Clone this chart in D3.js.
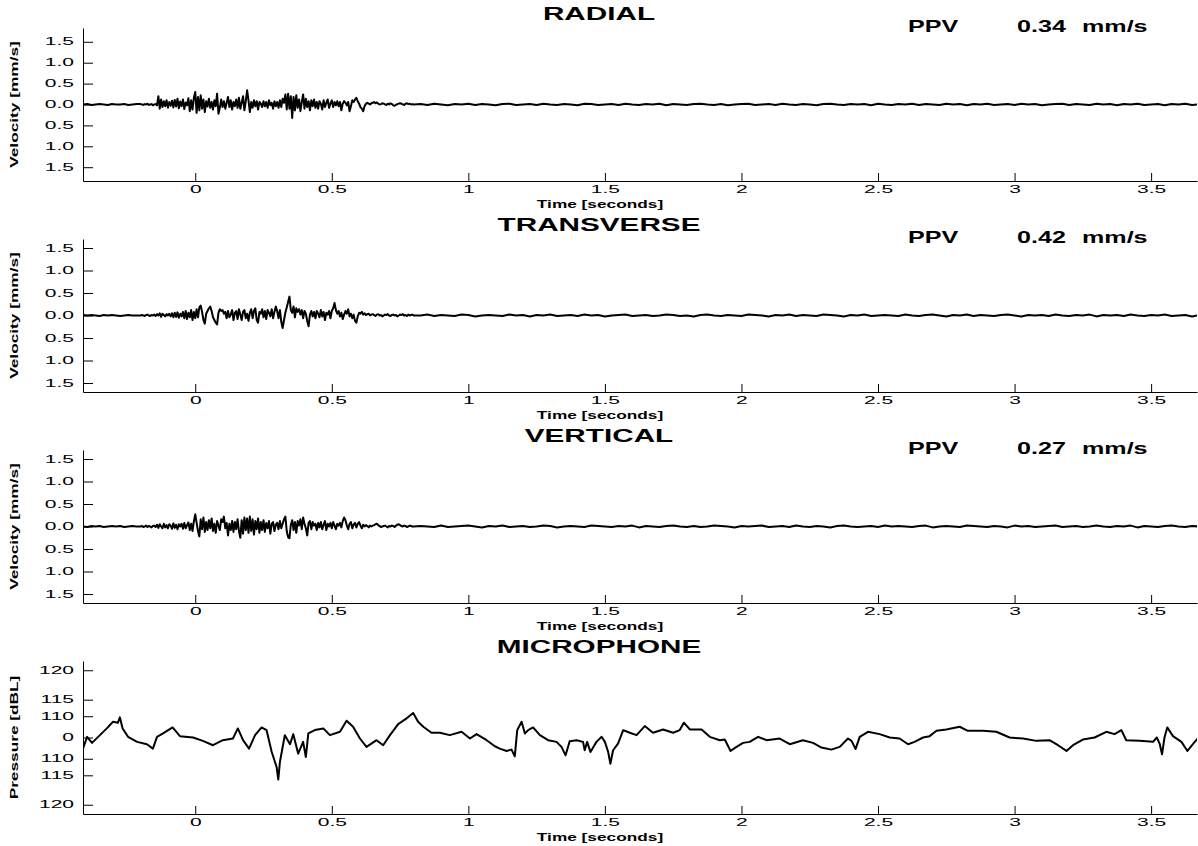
<!DOCTYPE html>
<html>
<head>
<meta charset="utf-8">
<script src="https://d3js.org/d3.v7.min.js"></script>
<style>
  body { margin: 0; background: #fff; }
</style>
</head>
<body>
<div id="viz"></div>
<script>
// ---- data ----
var panelTitles = ["RADIAL", "TRANSVERSE", "VERTICAL", "MICROPHONE"];
var yLabels = ["Velocity [mm/s]", "Velocity [mm/s]", "Velocity [mm/s]", "Pressure [dBL]"];
var ppvValues = [0.34, 0.42, 0.27];
var timeTicks = [0, 0.5, 1, 1.5, 2, 2.5, 3, 3.5];
var velocityTicks = [1.5, 1.0, 0.5, 0, -0.5, -1.0, -1.5];
var micTicksDb = [120, 115, 110, 0, -110, -115, -120];   // sign = side of zero
var velocityLimits = [1.83, 1.70, 1.70];
var micLimit = 22.75;   // Pa
var timeDomain = [-0.411, 3.668];

// velocity samples: lead (-0.41 step 0.015), burst (-0.20 step 0.005), tail (0.825 step 0.025)
var leadStart = -0.41, leadStep = 0.015;
var burstStart = -0.20, burstStep = 0.005;
var tailStart = 0.825, tailStep = 0.025;

var radialLead = [0.0,0.01,-0.01,0.0,0.01,0.0,-0.01,0.01,0.0,0.0,0.01,-0.01,0.0,0.01];
var radialBurst = [
  0.01,0.0,-0.01,0.01,0.0,0.02,-0.01,0.0,0.01,-0.02,
  0.0,0.01,-0.02,0.20,-0.10,0.12,-0.06,0.08,-0.04,0.10,
  -0.08,0.06,-0.03,0.09,-0.07,0.11,-0.05,0.14,-0.09,0.07,
  -0.04,0.12,-0.11,0.05,-0.02,0.15,-0.16,0.10,-0.12,0.16,
  0.30,-0.20,0.18,-0.14,0.22,-0.10,0.12,-0.18,0.08,-0.05,
  0.14,-0.08,0.06,-0.12,0.10,-0.04,0.26,-0.22,-0.08,0.12,
  -0.06,0.08,-0.10,0.04,0.18,-0.06,0.10,-0.12,0.06,-0.04,
  0.12,-0.08,0.16,-0.10,0.04,0.20,-0.14,0.08,0.34,0.10,
  -0.18,0.06,-0.08,0.10,-0.04,0.08,-0.12,0.06,0.02,-0.06,
  0.08,-0.04,0.06,-0.08,0.10,-0.02,0.04,-0.10,0.08,-0.04,
  0.06,-0.08,0.10,-0.06,0.14,0.04,0.24,-0.12,0.26,-0.10,
  0.20,-0.32,0.18,-0.14,0.22,-0.08,0.12,-0.16,0.06,0.24,
  -0.10,0.14,-0.06,0.08,-0.14,0.10,-0.04,0.12,-0.08,0.06,
  -0.10,0.08,0.02,-0.12,0.10,-0.06,0.04,0.12,-0.08,0.02,
  0.10,-0.06,0.06,-0.02,0.08,-0.04,0.06,-0.14,0.02,0.08,
  0.04,-0.02,0.06,-0.16,-0.04,0.10,0.06,0.12,0.16,0.08,
  0.02,-0.06,-0.10,-0.16,-0.04,0.02,0.04,0.02,0.0,0.03,
  0.04,0.06,0.03,0.05,0.02,0.0,0.01,0.03,0.02,0.0,
  -0.01,0.02,0.0,0.03,0.01,-0.02,-0.03,-0.01,0.01,0.02,
  0.03,0.02,0.0,-0.01,0.02,0.03,0.01,0.02,0.0,0.01,
  0.0];
var radialTail = [
  0.01,-0.01,0.02,0.0,-0.02,0.01,0.0,0.02,-0.01,0.01,
  0.0,-0.02,0.01,0.02,-0.01,0.0,0.01,-0.01,0.02,0.0,
  -0.01,0.01,0.0,-0.02,0.02,0.01,-0.01,0.0,0.01,-0.01,
  0.02,0.0,-0.01,0.01,0.0,0.02,-0.02,0.01,0.0,-0.01,
  0.01,0.02,0.0,-0.01,0.01,-0.02,0.0,0.01,0.02,-0.01,
  0.0,0.01,-0.01,0.02,0.0,-0.01,0.01,0.0,-0.02,0.01,
  0.02,0.0,-0.01,0.01,0.0,0.01,-0.02,0.02,0.0,-0.01,
  0.01,0.0,0.02,-0.01,0.01,0.0,-0.01,0.02,0.0,0.01,
  -0.02,0.01,0.0,0.02,-0.01,0.0,0.01,-0.01,0.02,0.0,
  0.01,-0.02,0.0,0.01,0.02,-0.01,0.01,0.0,-0.01,0.02,
  0.0,0.01,-0.02,0.01,0.0,0.02,-0.01,0.0,0.01,-0.02,
  0.01,0.0,0.02,-0.01,0.0];

var transverseLead = [0.01,0.0,0.01,0.0,-0.01,0.01,0.0,0.01,0.0,-0.01,0.0,0.01,0.0,0.0];
var transverseBurst = [
  0.0,0.01,0.0,-0.01,0.01,0.02,0.0,-0.01,0.01,0.0,
  0.02,-0.01,0.03,0.0,0.05,-0.03,0.04,0.01,-0.02,0.03,
  0.0,0.04,-0.02,0.05,-0.04,0.06,-0.03,0.07,-0.05,0.04,
  -0.02,0.08,-0.06,0.10,-0.08,0.06,-0.04,0.12,-0.10,0.08,
  -0.06,0.14,-0.04,0.18,0.22,0.08,-0.10,-0.18,0.04,0.10,
  0.16,0.20,0.10,-0.04,-0.10,-0.16,-0.20,0.06,0.14,0.10,
  0.12,0.04,0.08,-0.06,0.10,-0.04,0.02,0.12,-0.10,0.06,
  0.10,-0.08,0.14,0.02,-0.10,0.08,0.12,-0.06,0.04,-0.12,
  0.06,0.14,-0.06,0.10,0.16,-0.10,-0.16,0.08,0.04,0.14,
  -0.04,0.10,-0.08,0.12,0.06,-0.02,0.14,-0.06,0.08,0.20,
  0.10,-0.06,0.12,-0.14,-0.28,-0.10,0.06,0.18,0.30,0.42,
  0.12,0.06,0.20,-0.04,0.16,0.08,0.14,0.02,0.12,-0.06,
  0.10,0.04,-0.12,-0.24,0.02,0.10,-0.02,0.08,-0.06,0.10,
  0.04,-0.04,0.12,-0.02,0.08,-0.10,0.06,0.02,0.10,-0.06,
  0.10,0.16,0.28,0.12,0.04,0.10,-0.02,0.06,-0.08,0.02,
  0.10,0.04,0.14,-0.02,0.04,-0.06,0.02,-0.12,-0.16,-0.02,
  0.06,0.04,0.08,0.02,0.05,0.01,0.03,0.04,0.0,0.02,
  0.03,0.01,-0.01,0.02,0.03,0.0,0.01,-0.02,0.0,0.02,
  0.01,0.03,0.0,-0.01,0.01,0.02,0.0,0.01,-0.02,0.0,
  0.02,0.01,0.03,0.0,0.01,-0.01,0.02,0.0,0.01,0.02,
  0.0];
var transverseTail = [
  0.0,0.02,-0.01,0.01,0.0,-0.01,0.02,0.01,-0.02,0.0,
  0.01,0.0,-0.01,0.02,0.0,0.01,-0.02,0.01,0.0,0.02,
  -0.01,0.0,0.01,-0.01,0.02,0.0,0.01,-0.02,0.0,0.01,
  0.02,-0.01,0.0,0.01,-0.01,0.0,0.02,0.01,-0.01,0.0,
  -0.02,0.01,0.02,0.0,-0.01,0.01,0.0,-0.01,0.02,0.01,
  0.0,-0.02,0.01,0.0,0.02,-0.01,0.01,0.0,-0.01,0.02,
  0.01,0.0,-0.02,0.01,0.0,0.02,-0.01,0.0,0.01,0.0,
  -0.01,0.02,0.0,-0.01,0.01,0.02,0.0,-0.02,0.01,0.0,
  0.02,-0.01,0.01,0.0,-0.01,0.01,0.02,0.0,-0.02,0.01,
  0.0,0.01,-0.01,0.02,0.0,-0.01,0.01,0.0,0.02,-0.02,
  0.01,0.0,0.01,-0.01,0.02,0.0,-0.01,0.01,0.0,0.02,
  -0.01,0.0,0.01,-0.02,0.01];

var verticalLead = [0.0,-0.01,0.01,0.0,0.01,-0.01,0.0,0.01,0.0,0.01,-0.01,0.0,0.01,0.0];
var verticalBurst = [
  0.0,0.01,-0.01,0.0,0.02,-0.01,0.01,0.0,-0.02,0.01,
  0.02,-0.01,0.04,-0.03,0.05,0.0,-0.04,0.06,-0.02,0.03,
  -0.04,0.05,0.02,-0.05,0.07,-0.03,0.04,-0.06,0.05,0.0,
  0.06,-0.05,0.08,-0.04,0.03,0.09,-0.08,0.06,-0.10,0.12,
  0.27,0.08,-0.10,-0.22,0.16,-0.06,0.20,-0.12,0.10,-0.08,
  0.14,-0.04,0.18,-0.10,0.06,-0.14,0.12,0.02,-0.08,0.16,
  0.10,0.22,-0.04,0.08,-0.20,0.06,-0.08,0.12,-0.12,0.10,
  -0.06,0.16,-0.10,-0.25,0.14,-0.16,0.20,-0.08,0.18,-0.14,
  0.22,-0.10,0.16,-0.18,0.12,-0.06,0.18,-0.14,0.10,-0.08,
  0.14,-0.12,0.08,-0.04,0.12,-0.16,0.06,0.10,-0.10,0.04,
  0.08,-0.06,0.12,-0.04,0.06,0.16,0.22,-0.10,-0.24,-0.26,
  0.04,0.14,-0.08,0.10,-0.14,0.12,0.02,0.16,-0.06,0.20,
  0.06,-0.04,-0.20,0.08,0.12,-0.06,0.10,0.02,0.06,-0.08,
  0.08,-0.02,0.10,-0.06,0.04,0.12,-0.08,0.06,0.0,0.08,
  -0.04,0.10,0.02,-0.06,0.06,0.02,0.08,-0.02,0.12,0.20,
  0.14,0.02,-0.06,0.06,0.10,-0.04,0.04,0.08,-0.02,0.06,
  0.10,0.02,-0.04,0.04,0.0,0.03,0.01,-0.02,0.02,0.0,
  0.02,0.03,0.05,0.06,0.03,0.01,-0.01,0.0,0.01,0.02,
  0.0,-0.02,0.01,0.0,0.02,0.01,-0.01,0.02,0.04,0.05,
  0.03,0.01,0.0,0.02,0.01,-0.01,0.0,0.02,0.01,0.0,
  0.0];
var verticalTail = [
  0.01,0.0,-0.01,0.02,-0.01,0.0,0.01,0.02,0.0,-0.02,
  0.01,0.0,0.02,-0.01,0.0,0.01,-0.01,0.0,0.02,0.01,
  -0.02,0.0,0.01,0.0,-0.01,0.02,0.01,0.0,-0.01,0.01,
  0.0,0.02,-0.02,0.01,0.0,-0.01,0.01,0.02,0.0,-0.01,
  0.01,-0.01,0.0,0.02,0.01,0.0,-0.02,0.01,0.0,0.01,
  0.02,-0.01,0.0,0.01,-0.01,0.02,0.0,-0.01,0.01,0.0,
  -0.02,0.01,0.02,0.0,-0.01,0.0,0.01,-0.01,0.02,0.0,
  0.01,0.0,-0.01,0.01,0.02,-0.02,0.0,0.01,0.0,-0.01,
  0.02,0.01,0.0,-0.01,0.01,0.0,-0.02,0.02,0.0,0.01,
  -0.01,0.0,0.01,0.02,-0.01,0.0,0.01,-0.01,0.0,0.02,
  0.0,-0.01,0.01,0.0,0.02,-0.02,0.01,0.0,-0.01,0.01,
  0.02,0.0,-0.01,0.01,0.0];

// microphone trace, time [s] and pressure [Pa]
var micTime = [
  -0.411,-0.396,-0.378,-0.349,-0.323,-0.301,-0.283,-0.276,-0.266,-0.246,
  -0.213,-0.177,-0.155,-0.140,-0.118,-0.083,-0.056,-0.008,0.028,0.065,
  0.101,0.138,0.156,0.175,0.197,0.219,0.243,0.261,0.280,0.298,
  0.304,0.310,0.328,0.347,0.359,0.377,0.395,0.405,0.414,0.438,
  0.469,0.493,0.530,0.554,0.578,0.603,0.627,0.664,0.688,0.713,
  0.743,0.774,0.798,0.816,0.835,0.865,0.896,0.932,0.975,1.006,
  1.030,1.067,1.097,1.115,1.140,1.158,1.170,1.179,1.195,1.207,
  1.219,1.237,1.262,1.292,1.323,1.341,1.356,1.371,1.396,1.420,
  1.426,1.435,1.447,1.469,1.488,1.500,1.512,1.520,1.530,1.548,
  1.567,1.591,1.616,1.646,1.676,1.713,1.750,1.774,1.789,1.811,
  1.854,1.884,1.921,1.939,1.960,1.982,2.006,2.030,2.061,2.092,
  2.140,2.177,2.225,2.262,2.293,2.329,2.360,2.390,2.403,2.418,
  2.433,2.463,2.506,2.543,2.579,2.610,2.634,2.665,2.689,2.714,
  2.750,2.799,2.829,2.884,2.933,2.982,3.031,3.080,3.128,3.159,
  3.190,3.214,3.250,3.293,3.336,3.366,3.391,3.409,3.458,3.507,
  3.521,3.531,3.540,3.549,3.559,3.580,3.611,3.633,3.653,3.670];
var micPa = [
  -3.3,0.2,-1.6,0.7,2.8,4.7,4.4,6.0,2.7,0.2,
  -1.3,-2.0,-3.3,0.2,1.2,3.0,0.4,0.0,-1.0,-2.3,
  -0.8,-0.3,2.7,-0.8,-3.3,0.7,3.0,2.2,-4.3,-8.8,
  -12.5,-7.3,0.7,-2.0,1.0,-4.8,-1.3,-5.8,1.2,2.2,
  2.7,0.7,1.7,5.0,3.2,-0.3,-2.8,-0.8,-2.3,0.7,
  4.0,5.7,7.3,4.7,3.2,1.4,1.4,0.7,1.7,-0.3,
  1.0,-0.8,-2.6,-3.3,-4.0,-3.6,-5.6,2.2,4.7,1.2,
  2.2,3.0,0.7,-0.8,-1.3,-2.8,-5.3,-1.1,-0.8,-1.3,
  -3.8,-1.3,-4.3,-1.3,0.2,-1.3,-4.3,-7.8,-3.8,-1.8,
  2.2,1.4,0.7,3.4,1.4,2.4,1.4,2.2,4.4,2.4,
  2.4,0.2,-0.8,-0.6,-4.0,-2.8,-1.6,-1.3,0.2,-0.8,
  -0.3,-2.0,-0.8,-1.6,-3.0,-3.6,-2.8,-0.3,-1.0,-3.4,
  0.2,1.7,1.0,0.0,-0.3,-2.0,-1.3,0.0,0.4,2.0,
  2.4,3.2,2.0,2.0,1.7,0.0,-0.3,-1.0,-0.8,-2.3,
  -4.0,-2.3,-0.6,0.0,1.7,1.0,2.2,-0.8,-1.0,-1.3,
  0.0,-1.8,-5.0,0.0,3.0,0.4,-1.3,-4.0,-2.0,-0.3];

// ---- layout ----
var width = 1198, height = 846;
var plotLeft = 83, plotRight = 1197;
var firstTop = 28, panelStep = 211, panelHeight = 153;
var font = "'Liberation Sans', Arial, Helvetica, sans-serif";

function segment(values, start, step) {
  return values.map(function(v, i) { return [start + i * step, v]; });
}

function velocitySeries(lead, burst, tail) {
  return segment(lead, leadStart, leadStep)
    .concat(segment(burst, burstStart, burstStep))
    .concat(segment(tail, tailStart, tailStep));
}

var series = [
  velocitySeries(radialLead, radialBurst, radialTail),
  velocitySeries(transverseLead, transverseBurst, transverseTail),
  velocitySeries(verticalLead, verticalBurst, verticalTail),
  micTime.map(function(t, i) { return [t, micPa[i]]; })
];

function dbToPa(db) {
  if (db === 0) return 0;
  return Math.sign(db) * 20e-6 * Math.pow(10, Math.abs(db) / 20);
}

var x = d3.scaleLinear().domain(timeDomain).range([plotLeft, plotRight]);

var svg = d3.select("#viz")
  .append("svg")
  .attr("width", width)
  .attr("height", height)
  .style("font-family", font);

// stretched text, the record is drawn wide
function label(g, px, py, str, size, weight, sx, anchor, rotate) {
  var tr = "translate(" + px + "," + py + ")" + (rotate ? " rotate(" + rotate + ")" : "") +
    " scale(" + sx + ",1)";
  return g.append("text")
    .attr("transform", tr)
    .attr("text-anchor", anchor)
    .attr("font-family", font)
    .attr("font-size", size + "px")
    .attr("font-weight", weight)
    .attr("fill", "#000")
    .text(str);
}

panelTitles.forEach(function(title, k) {
  var top = firstTop + k * panelStep;
  var bottom = top + panelHeight;
  var isMic = k === 3;

  var y = d3.scaleLinear()
    .domain(isMic ? [-micLimit, micLimit] : [-velocityLimits[k], velocityLimits[k]])
    .range([bottom, top]);

  var g = svg.append("g");

  g.append("clipPath").attr("id", "clip" + k)
    .append("rect")
    .attr("x", plotLeft).attr("y", top)
    .attr("width", plotRight - plotLeft).attr("height", panelHeight);

  // trace
  var line = d3.line()
    .x(function(d) { return x(d[0]); })
    .y(function(d) { return y(d[1]); });

  g.append("path")
    .datum(series[k])
    .attr("clip-path", "url(#clip" + k + ")")
    .attr("d", line)
    .attr("fill", "none")
    .attr("stroke", "#000")
    .attr("stroke-width", 2)
    .attr("stroke-linejoin", "round");

  // x axis
  var xAxis = g.append("g")
    .attr("transform", "translate(0," + bottom + ")")
    .call(d3.axisBottom(x).tickValues(timeTicks)
      .tickSize(-8).tickSizeOuter(0).tickPadding(5)
      .tickFormat(function(d) { return String(d); }));
  xAxis.selectAll("text")
    .attr("transform", "scale(2.1,1)")
    .attr("font-family", font)
    .attr("font-size", "10px")
    .attr("fill", "#000");

  // y axis
  var yTickVals = isMic ? micTicksDb.map(dbToPa) : velocityTicks;
  var yAxis = g.append("g")
    .attr("transform", "translate(" + plotLeft + ",0)")
    .call(d3.axisLeft(y).tickValues(yTickVals)
      .tickSize(-10).tickSizeOuter(0).tickPadding(0)
      .tickFormat(function(d, i) {
        return isMic ? String(Math.abs(micTicksDb[i])) : Math.abs(d).toFixed(1);
      }));
  yAxis.selectAll("text")
    .attr("transform", "translate(-9,0) scale(2.1,1)")
    .attr("font-family", font)
    .attr("font-size", "10px")
    .attr("fill", "#000");
  g.selectAll(".domain, .tick line").attr("stroke", "#000");

  // texts
  label(g, 599, top - 8, title, 18, "bold", 1.65, "middle");
  label(g, 600, bottom + 27, "Time [seconds]", 11, "bold", 1.57, "middle");
  label(g, 18, (top + bottom) / 2, yLabels[k], 11, "bold", 1.57, "middle", -90);

  if (!isMic) {
    label(g, 908, top + 4, "PPV", 16, "bold", 1.57, "start");
    label(g, 1017, top + 4, ppvValues[k].toFixed(2), 16, "bold", 1.57, "start");
    label(g, 1082, top + 4, "mm/s", 16, "bold", 1.57, "start");
  }
});
</script>
</body>
</html>
